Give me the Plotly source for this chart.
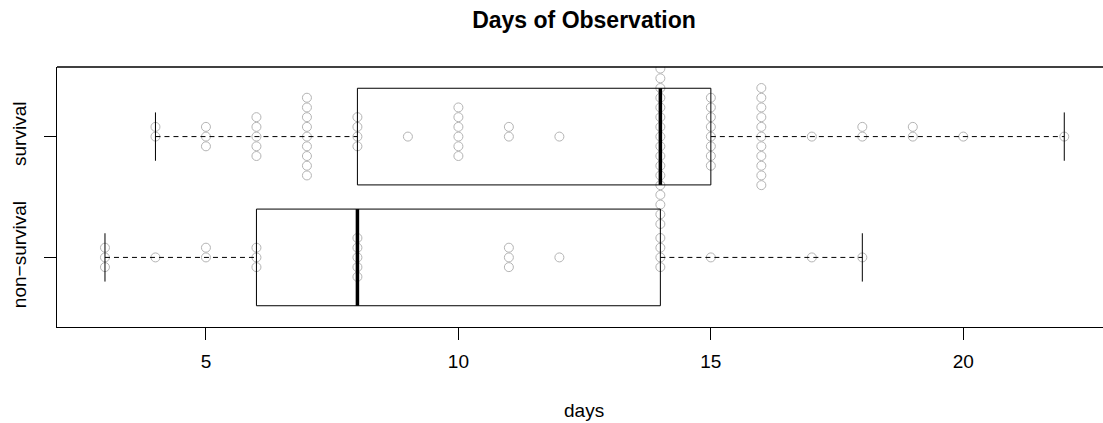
import math
import numpy as np
import plotly.graph_objects as go

# Observation lengths (days) per outcome group
group_labels = ["non−survival", "survival"]
nonsurvival_days = [3, 3, 3, 4, 5, 5, 6, 6, 6, 8, 8, 8, 8, 8, 11, 11, 11, 12,
                    14, 14, 14, 14, 15, 17, 18]
survival_days = [4, 4, 5, 5, 5, 6, 6, 6, 6, 6, 7, 7, 7, 7, 7, 7, 7, 7, 7,
                 8, 8, 8, 8, 9, 10, 10, 10, 10, 10, 10, 11, 11, 12,
                 14, 14, 14, 14, 14, 14, 14, 14, 14, 14, 14, 14, 14, 14, 14, 14, 14, 14, 14,
                 15, 15, 15, 15, 15, 15, 15, 15,
                 16, 16, 16, 16, 16, 16, 16, 16, 16, 16, 16,
                 17, 18, 18, 19, 19, 20, 22]
x_ticks = [5, 10, 15, 20]

W, H = 1103, 423
ML, MT, MB, MR = 57, 67, 96, 0
X_LO = 2.05
PX_PER_DAY = 50.49
X_HI = X_LO + (W - ML - MR) / PX_PER_DAY
Y_RANGE = [0.424, 2.576]
SWARM_STEP = 0.0804
BOX_HALF = 0.4
STAPLE_HALF = 0.2
PT_COLOR = "#B4B4B4"


def fivenum(values):
    x = sorted(values)
    n = len(x)
    n4 = math.floor((n + 3) / 2) / 2
    d = [1, n4, (n + 1) / 2, n + 1 - n4, n]
    return [0.5 * (x[math.floor(di - 1)] + x[math.ceil(di - 1)]) for di in d]


def swarm_offsets(values):
    # stack equal values around the centre line: 0, +1, -1, +2, -2, ...
    seen = {}
    offs = []
    for v in values:
        k = seen.get(v, 0)
        seen[v] = k + 1
        level = (k + 1) // 2
        offs.append(level if k % 2 == 1 else -level)
    return np.array(offs, dtype=float)


fig = go.Figure()
line_traces = []

for gy, days in ((1, nonsurvival_days), (2, survival_days)):
    offs = swarm_offsets(days)
    fig.add_trace(go.Scatter(
        x=days, y=gy + offs * SWARM_STEP, mode="markers",
        marker=dict(symbol="circle-open", size=9, color=PT_COLOR,
                    line=dict(width=1, color=PT_COLOR)),
        hoverinfo="skip", showlegend=False))

    _, q1, med, q3, _ = fivenum(days)
    iqr = q3 - q1
    lo = min(v for v in days if v >= q1 - 1.5 * iqr)
    hi = max(v for v in days if v <= q3 + 1.5 * iqr)

    line_traces.append(go.Scatter(
        x=[lo, q1, None, q3, hi], y=[gy, gy, None, gy, gy], mode="lines",
        line=dict(color="black", width=1, dash="5px,4px"),
        hoverinfo="skip", showlegend=False))
    line_traces.append(go.Scatter(
        x=[lo, lo, None, hi, hi],
        y=[gy - STAPLE_HALF, gy + STAPLE_HALF, None, gy - STAPLE_HALF, gy + STAPLE_HALF],
        mode="lines", line=dict(color="black", width=1),
        hoverinfo="skip", showlegend=False))
    line_traces.append(go.Scatter(
        x=[q1, q3, q3, q1, q1],
        y=[gy - BOX_HALF, gy - BOX_HALF, gy + BOX_HALF, gy + BOX_HALF, gy - BOX_HALF],
        mode="lines", line=dict(color="black", width=1),
        hoverinfo="skip", showlegend=False))
    line_traces.append(go.Scatter(
        x=[med, med], y=[gy - BOX_HALF, gy + BOX_HALF], mode="lines",
        line=dict(color="black", width=3.5),
        hoverinfo="skip", showlegend=False))

for tr in line_traces:
    fig.add_trace(tr)

font_family = "Liberation Sans, Arial, Helvetica, sans-serif"
plot_w = W - ML - MR
plot_h = H - MT - MB
title_cx = 584

fig.update_layout(
    width=W, height=H,
    margin=dict(l=ML, r=MR, t=MT, b=MB, pad=0),
    paper_bgcolor="white", plot_bgcolor="white",
    font=dict(family=font_family, size=19, color="black"),
    title=dict(text="<b>Days of Observation</b>", xref="container", yref="container",
               x=title_cx / W, xanchor="center", y=1 - 20 / H, yanchor="middle",
               font=dict(size=23, family=font_family, color="black")),
    xaxis=dict(range=[X_LO, X_HI], tickvals=x_ticks, ticktext=[str(t) for t in x_ticks],
               ticks="outside", ticklen=12, tickwidth=1, tickcolor="black",
               showline=True, linecolor="black", linewidth=1.3, mirror=False,
               showgrid=False, zeroline=False, ticklabelstandoff=5,
               tickfont=dict(size=19)),
    yaxis=dict(range=Y_RANGE, tickvals=[1, 2], ticktext=group_labels,
               ticks="outside", ticklen=12, tickwidth=1, tickcolor="black",
               showline=True, linecolor="black", linewidth=1.3, mirror=False,
               showgrid=False, zeroline=False, tickangle=-90, ticklabelstandoff=10,
               tickfont=dict(size=19)),
    shapes=[dict(type="line", xref="paper", yref="paper", x0=0, x1=1, y0=1, y1=1,
                 line=dict(color="black", width=1.3))],
    annotations=[dict(text="days", xref="paper", yref="paper",
                      x=(title_cx - ML) / plot_w, y=(H - MB - 410) / plot_h,
                      xanchor="center", yanchor="middle", showarrow=False,
                      font=dict(size=19, family=font_family, color="black"))],
    hovermode=False,
)

fig.write_html("out.html")
